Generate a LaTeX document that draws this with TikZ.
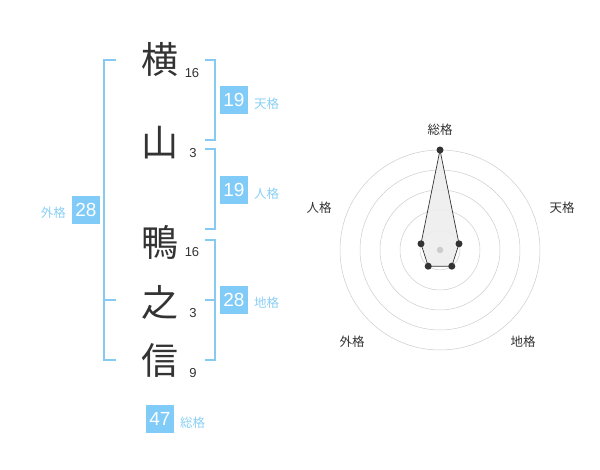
\documentclass[tikz,border=0pt]{standalone}
\usepackage{fontspec}
\setmainfont{Liberation Sans}
\newfontfamily\cjk{Noto Sans CJK JP}
\definecolor{boxblue}{HTML}{80CBF8}
\definecolor{lblblue}{HTML}{8ACFF6}
\definecolor{brblue}{HTML}{86CAF4}
\definecolor{txtdark}{HTML}{333333}
\definecolor{ringgray}{HTML}{CCCCCC}
\tikzset{
  kanji/.style={font=\cjk\fontsize{37}{37}\selectfont, text=txtdark, inner sep=0pt},
  stroke/.style={font=\fontsize{13}{13}\selectfont, text=txtdark, inner sep=0pt},
  valbox/.style={fill=boxblue, text=white, minimum size=28pt, inner sep=0pt, font=\fontsize{19}{19}\selectfont},
  vallbl/.style={font=\cjk\fontsize{12.5}{12.5}\selectfont, text=lblblue, inner sep=0pt},
  bracket/.style={draw=brblue, line width=1.3pt},
  radlbl/.style={font=\cjk\fontsize{12.5}{12.5}\selectfont, text=txtdark, inner sep=0pt},
  ring/.style={draw=ringgray, line width=0.5pt},
  vdot/.style={circle, fill=txtdark, inner sep=0pt, minimum size=7pt},
}
\begin{document}
\begin{tikzpicture}[x=1pt,y=-1pt]
\useasboundingbox (0,0) rectangle (600,470);
% name characters
\node[kanji] (k1) at (160,59) {横};
\node[kanji] (k2) at (160,143) {山};
\node[kanji] (k3) at (160,242) {鴨};
\node[kanji] (k4) at (160,302) {之};
\node[kanji] (k5) at (160,360) {信};
\node[stroke] (s1) at (192,73) {16};
\node[stroke] (s2) at (193,153) {3};
\node[stroke] (s3) at (192,252) {16};
\node[stroke] (s4) at (193,313) {3};
\node[stroke] (s5) at (193,373) {9};
% brackets
\draw[bracket] (116,60) -- (104,60) -- (104,360) -- (116,360);
\draw[bracket] (104,300) -- (116,300);
\draw[bracket] (205,60) -- (215,60) -- (215,140) -- (205,140);
\draw[bracket] (205,149) -- (215,149) -- (215,229) -- (205,229);
\draw[bracket] (205,240) -- (215,240) -- (215,360) -- (205,360);
\draw[bracket] (205,300) -- (215,300);
% value boxes
\node[valbox] (ten) at (234,100) {19};
\node[vallbl, anchor=west] (tenl) at (254,104) {天格};
\node[valbox] (jin) at (234,190) {19};
\node[vallbl, anchor=west] (jinl) at (254,194) {人格};
\node[valbox] (chi) at (234,300) {28};
\node[vallbl, anchor=west] (chil) at (254,303) {地格};
\node[valbox] (gai) at (86,210) {28};
\node[vallbl, anchor=east] (gail) at (66,213) {外格};
\node[valbox] (sou) at (160,419) {47};
\node[vallbl, anchor=west] (soul) at (180,423) {総格};
% radar chart
\coordinate (c) at (440,250);
\foreach \r in {20,40,60,80,100} \draw[ring] (c) circle[radius=\r];
\filldraw[fill=black!7, fill opacity=0.9, draw=txtdark, line width=0.7pt]
  (440,150) -- (459.0,243.8) -- (451.8,266.2) -- (428.2,266.2) -- (421.0,243.8) -- cycle;
\node[circle, fill=ringgray, inner sep=0pt, minimum size=6.5pt] (cdot) at (c) {};
\node[vdot] (p1) at (440,150) {};
\node[vdot] (p2) at (459.0,243.8) {};
\node[vdot] (p3) at (451.8,266.2) {};
\node[vdot] (p4) at (428.2,266.2) {};
\node[vdot] (p5) at (421.0,243.8) {};
\node[radlbl] (r1) at (440,130) {総格};
\node[radlbl] (r2) at (562,208) {天格};
\node[radlbl] (r3) at (319,208) {人格};
\node[radlbl] (r4) at (352,342) {外格};
\node[radlbl] (r5) at (523,342) {地格};
\end{tikzpicture}
\end{document}
